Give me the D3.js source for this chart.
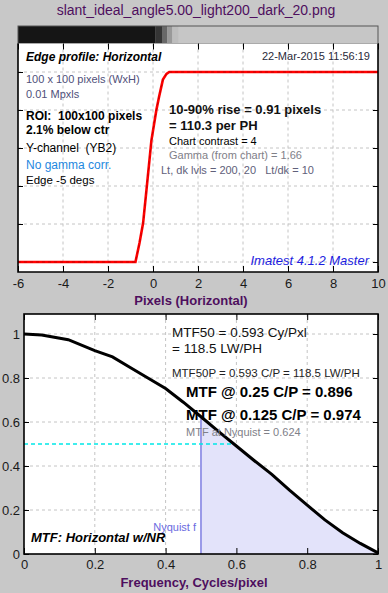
<!DOCTYPE html>
<html>
<head>
<meta charset="utf-8">
<script src="https://cdn.jsdelivr.net/npm/d3@7"></script>
<style>
  body { margin: 0; background: #c8c8c8; }
  text { font-family: "Liberation Sans", Arial, sans-serif; white-space: pre; }
</style>
</head>
<body>
<script>
// edge profile (normalized level vs pixels)
var edgeX = [-6, -0.78, -0.6, -0.44, -0.29, -0.07, 0.15, 0.27, 0.44, 0.6, 0.72, 10];
var edgeY = [0, 0, 0.1, 0.205, 0.38, 0.64, 0.8, 0.87, 0.96, 0.99, 1, 1];

// grey strip above the edge plot (image of the edge)
var stripEdges = [-6, 0.12, 0.4, 0.64, 0.86, 1.14, 10];
var stripGreys = ["#151515", "#353535", "#686868", "#999999", "#bdbdbd", "#c6c6c6"];

// MTF curve
var freq = [0, 0.05, 0.125, 0.2, 0.25, 0.3, 0.35, 0.4, 0.45, 0.5, 0.55, 0.593, 0.65, 0.7, 0.75, 0.8, 0.85, 0.9, 0.95, 1.0];
var mtf = [1, 0.995, 0.974, 0.924, 0.896, 0.848, 0.8, 0.752, 0.69, 0.624, 0.556, 0.5, 0.425, 0.362, 0.29, 0.222, 0.155, 0.097, 0.048, 0.005];

var edgeTicksX = [-6, -4, -2, 0, 2, 4, 6, 8, 10];
var edgeTicksY = [0, 0.2, 0.4, 0.6, 0.8, 1];
var mtfTicks = [0, 0.2, 0.4, 0.6, 0.8, 1];

var purple = "#4e0f5e";

var svg = d3.select("body").append("svg")
  .attr("width", 388)
  .attr("height", 593);

svg.append("rect").attr("width", 388).attr("height", 593).attr("fill", "#c8c8c8");

// title
svg.append("text")
  .attr("x", 196).attr("y", 15)
  .attr("text-anchor", "middle")
  .style("font-size", "14px")
  .attr("fill", purple)
  .text("slant_ideal_angle5.00_light200_dark_20.png");

// ---------- top: edge profile ----------
var x1 = d3.scaleLinear().domain([-6, 10]).range([18, 378]);
var y1 = d3.scaleLinear().domain([-0.0526, 1.15]).range([272, 43.5]);

// strip
svg.selectAll(".strip")
  .data(stripGreys)
  .enter()
  .append("rect")
  .attr("class", "strip")
  .attr("x", (d, i) => x1(stripEdges[i]))
  .attr("width", (d, i) => x1(stripEdges[i + 1]) - x1(stripEdges[i]))
  .attr("y", 26)
  .attr("height", 17.5)
  .attr("fill", (d) => d);
svg.append("rect")
  .attr("x", 18).attr("y", 26).attr("width", 360).attr("height", 17.5)
  .attr("fill", "none").attr("stroke", "#555").attr("stroke-width", 1);

var edgePlot = svg.append("g");
edgePlot.append("rect")
  .attr("x", 18).attr("y", 43.5).attr("width", 360).attr("height", 228.5)
  .attr("fill", "white");

// grid
edgePlot.selectAll(".gx")
  .data(edgeTicksX.slice(1, -1))
  .enter().append("line")
  .attr("x1", (d) => x1(d)).attr("x2", (d) => x1(d))
  .attr("y1", 43.5).attr("y2", 272)
  .attr("stroke", "#c4c4c4").attr("stroke-dasharray", "3,3");
edgePlot.selectAll(".gy")
  .data(edgeTicksY)
  .enter().append("line")
  .attr("x1", 18).attr("x2", 378)
  .attr("y1", (d) => y1(d)).attr("y2", (d) => y1(d))
  .attr("stroke", "#c4c4c4").attr("stroke-dasharray", "3,3");

// axes with inner ticks
edgePlot.append("g").attr("transform", "translate(0,272)")
  .call(d3.axisBottom(x1).tickValues(edgeTicksX).tickSizeInner(-6).tickSizeOuter(0).tickPadding(7).tickFormat((d) => String(d)))
  .call((g) => g.select(".domain").remove())
  .call((g) => g.selectAll("text").style("font-size", "13px").attr("fill", "#1a1a1a").style("font-family", "Liberation Sans, Arial"));
edgePlot.append("g").attr("transform", "translate(0,43.5)")
  .call(d3.axisTop(x1).tickValues(edgeTicksX).tickSizeInner(-6).tickSizeOuter(0).tickFormat(""))
  .call((g) => g.select(".domain").remove());
edgePlot.append("g").attr("transform", "translate(18,0)")
  .call(d3.axisLeft(y1).tickValues(edgeTicksY).tickSizeInner(-5).tickSizeOuter(0).tickFormat(""))
  .call((g) => g.select(".domain").remove());
edgePlot.append("g").attr("transform", "translate(378,0)")
  .call(d3.axisRight(y1).tickValues(edgeTicksY).tickSizeInner(-5).tickSizeOuter(0).tickFormat(""))
  .call((g) => g.select(".domain").remove());

// edge profile line
var edgeLine = d3.line()
  .x((d, i) => x1(edgeX[i]))
  .y((d, i) => y1(edgeY[i]));
edgePlot.append("path").datum(edgeX)
  .attr("d", edgeLine)
  .attr("fill", "none").attr("stroke", "#ff0000").attr("stroke-width", 2.6);
edgePlot.append("path").datum(edgeX)
  .attr("d", edgeLine)
  .attr("fill", "none").attr("stroke", "#c80000").attr("stroke-width", 1)
  .attr("stroke-dasharray", "3,3");

// frame
edgePlot.append("path")
  .attr("d", "M18,43.5 V272 H378 V43.5")
  .attr("fill", "none").attr("stroke", "black").attr("stroke-width", 1.6);

// texts in the edge plot
function label(g, x, y, txt, size, color, weight, style, anchor) {
  g.append("text")
    .attr("x", x).attr("y", y)
    .attr("text-anchor", anchor || "start")
    .style("font-size", size + "px")
    .style("font-weight", weight || "normal")
    .style("font-style", style || "normal")
    .attr("fill", color)
    .text(txt);
}
label(edgePlot, 26, 61, "Edge profile: Horizontal", 12, "black", "bold", "italic");
label(edgePlot, 370, 60, "22-Mar-2015 11:56:19", 11, "#2a2a3a", null, null, "end");
label(edgePlot, 26, 83, "100 x 100 pixels (WxH)", 11, "#50507a");
label(edgePlot, 26, 98, "0.01 Mpxls", 11, "#50507a");
label(edgePlot, 26, 120, "ROI:  100x100 pixels", 12, "black", "bold");
label(edgePlot, 26, 133.5, "2.1% below ctr", 12, "black", "bold");
label(edgePlot, 26, 152, "Y-channel  (YB2)", 12, "black");
label(edgePlot, 26, 169, "No gamma corr.", 12, "#1e88e0");
label(edgePlot, 26, 184, "Edge -5 degs", 11.5, "black");
label(edgePlot, 169, 114, "10-90% rise = 0.91 pixels", 13, "#111", "bold");
label(edgePlot, 169, 129.5, "= 110.3 per PH", 13, "#111", "bold");
label(edgePlot, 169, 145, "Chart contrast = 4", 11, "black");
label(edgePlot, 169, 159, "Gamma (from chart) = 1.66", 11, "#808088");
label(edgePlot, 161, 173.5, "Lt, dk lvls = 200, 20   Lt/dk = 10", 11, "#60607a");
label(edgePlot, 369, 265, "Imatest 4.1.2 Master", 13, "#1c1ce0", null, "italic", "end");

label(svg, 191, 305, "Pixels (Horizontal)", 13, purple, "bold", null, "middle");

// ---------- bottom: MTF ----------
var x2 = d3.scaleLinear().domain([0, 1]).range([24, 378]);
var y2 = d3.scaleLinear().domain([0, 1.09]).range([554, 314.2]);

var bot = svg.append("g");
bot.append("rect")
  .attr("x", 24).attr("y", 314).attr("width", 354).attr("height", 240)
  .attr("fill", "white");

bot.selectAll(".gx")
  .data(mtfTicks.slice(1, -1))
  .enter().append("line")
  .attr("x1", (d) => x2(d)).attr("x2", (d) => x2(d))
  .attr("y1", 314).attr("y2", 554)
  .attr("stroke", "#c4c4c4").attr("stroke-dasharray", "3,3");
bot.selectAll(".gy")
  .data(mtfTicks.slice(1))
  .enter().append("line")
  .attr("x1", 24).attr("x2", 378)
  .attr("y1", (d) => y2(d)).attr("y2", (d) => y2(d))
  .attr("stroke", "#c4c4c4").attr("stroke-dasharray", "3,3");

// shaded area beyond Nyquist
var idx = d3.range(freq.length).filter((i) => freq[i] >= 0.5);
bot.append("path").datum(idx)
  .attr("d", d3.area().x((i) => x2(freq[i])).y0(y2(0)).y1((i) => y2(mtf[i])))
  .attr("fill", "#e3e3fa");
bot.append("line")
  .attr("x1", x2(0.5)).attr("x2", x2(0.5))
  .attr("y1", y2(0)).attr("y2", y2(0.624))
  .attr("stroke", "#9a9ae8").attr("stroke-width", 2);

// MTF50 marker
bot.append("line")
  .attr("x1", x2(0)).attr("x2", x2(0.593))
  .attr("y1", y2(0.5)).attr("y2", y2(0.5))
  .attr("stroke", "#00e8e8").attr("stroke-width", 1.3).attr("stroke-dasharray", "4,3");

bot.append("g").attr("transform", "translate(0,554)")
  .call(d3.axisBottom(x2).tickValues(mtfTicks).tickSizeInner(-6).tickSizeOuter(0).tickPadding(6).tickFormat((d) => String(d)))
  .call((g) => g.select(".domain").remove())
  .call((g) => g.selectAll("text").style("font-size", "13px").attr("fill", "#1a1a1a").style("font-family", "Liberation Sans, Arial"));
bot.append("g").attr("transform", "translate(0,314)")
  .call(d3.axisTop(x2).tickValues(mtfTicks).tickSizeInner(-6).tickSizeOuter(0).tickFormat(""))
  .call((g) => g.select(".domain").remove());
bot.append("g").attr("transform", "translate(24,0)")
  .call(d3.axisLeft(y2).tickValues(mtfTicks).tickSizeInner(-5).tickSizeOuter(0).tickFormat((d) => String(d)))
  .call((g) => g.select(".domain").remove())
  .call((g) => g.selectAll("text").attr("x", -4).style("font-size", "13px").attr("fill", "#1a1a1a").style("font-family", "Liberation Sans, Arial"));
bot.append("g").attr("transform", "translate(378,0)")
  .call(d3.axisRight(y2).tickValues(mtfTicks).tickSizeInner(-5).tickSizeOuter(0).tickFormat(""))
  .call((g) => g.select(".domain").remove());

bot.append("path").datum(freq)
  .attr("d", d3.line().x((d) => x2(d)).y((d, i) => y2(mtf[i])))
  .attr("fill", "none").attr("stroke", "black").attr("stroke-width", 3);

bot.append("rect")
  .attr("x", 24).attr("y", 314).attr("width", 354).attr("height", 240)
  .attr("fill", "none").attr("stroke", "black").attr("stroke-width", 1.6);

label(bot, 172, 337, "MTF50 = 0.593 Cy/Pxl", 13.5, "#111");
label(bot, 172, 353, "= 118.5 LW/PH", 13.5, "#111");
label(bot, 172, 377, "MTF50P = 0.593 C/P = 118.5 LW/PH", 11.5, "#222");
label(bot, 186, 397, "MTF @ 0.25 C/P = 0.896", 15, "black", "bold");
label(bot, 186, 419.5, "MTF @ 0.125 C/P = 0.974", 15, "black", "bold");
label(bot, 186, 435.5, "MTF at Nyquist = 0.624", 11, "#808088");
label(bot, 196, 531, "Nyquist f", 11, "#6a6ae0", null, null, "end");
label(bot, 31, 542, "MTF: Horizontal w/NR", 13, "black", "bold", "italic");

label(svg, 194, 587, "Frequency, Cycles/pixel", 13, purple, "bold", null, "middle");
</script>
</body>
</html>
